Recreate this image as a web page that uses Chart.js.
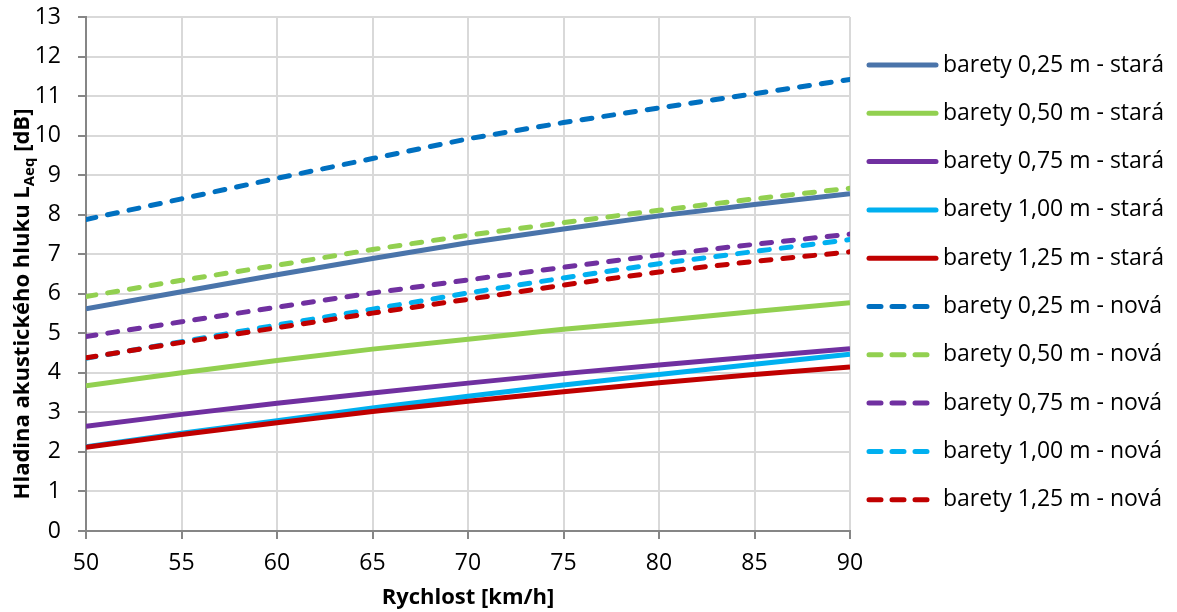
<!DOCTYPE html>
<html>
<head>
<meta charset="utf-8">
<script src="https://cdn.jsdelivr.net/npm/chart.js@4.4.0/dist/chart.umd.min.js"></script>
<style>
  body { margin: 0; background: #fff; }
  canvas { display: block; }
</style>
</head>
<body>
<canvas id="myChart" width="1177" height="612"></canvas>
<script>
// data
const speeds = [50, 55, 60, 65, 70, 75, 80, 85, 90];
const yTicks = [0, 1, 2, 3, 4, 5, 6, 7, 8, 9, 10, 11, 12, 13];

const stara025 = [5.62, 6.05, 6.48, 6.89, 7.29, 7.64, 7.97, 8.26, 8.53];
const stara050 = [3.67, 4.00, 4.31, 4.60, 4.85, 5.10, 5.32, 5.55, 5.77];
const stara075 = [2.65, 2.95, 3.23, 3.49, 3.74, 3.98, 4.20, 4.41, 4.61];
const stara100 = [2.13, 2.47, 2.79, 3.11, 3.41, 3.69, 3.96, 4.22, 4.47];
const stara125 = [2.12, 2.44, 2.74, 3.02, 3.28, 3.52, 3.75, 3.96, 4.15];

const nova025 = [7.88, 8.40, 8.92, 9.42, 9.92, 10.33, 10.70, 11.06, 11.42];
const nova050 = [5.93, 6.34, 6.72, 7.12, 7.48, 7.80, 8.11, 8.40, 8.67];
const nova075 = [4.92, 5.29, 5.66, 6.02, 6.35, 6.67, 6.98, 7.25, 7.51];
const nova100 = [4.37, 4.79, 5.21, 5.61, 6.02, 6.40, 6.76, 7.07, 7.37];
const nova125 = [4.38, 4.77, 5.14, 5.51, 5.86, 6.22, 6.55, 6.82, 7.06];

const seriesNames = [
  'barety 0,25 m - stará', 'barety 0,50 m - stará', 'barety 0,75 m - stará',
  'barety 1,00 m - stará', 'barety 1,25 m - stará',
  'barety 0,25 m - nová', 'barety 0,50 m - nová', 'barety 0,75 m - nová',
  'barety 1,00 m - nová', 'barety 1,25 m - nová'
];
const seriesValues = [stara025, stara050, stara075, stara100, stara125,
                      nova025, nova050, nova075, nova100, nova125];
const seriesColors = ['#4a74aa', '#92d050', '#7030a0', '#00b0f0', '#c00000',
                      '#0070c0', '#92d050', '#7030a0', '#00b0f0', '#c00000'];

const FONT = "'Open Sans', sans-serif";
Chart.defaults.font.family = FONT;
Chart.defaults.color = '#000';

// build datasets
let datasets = seriesValues.map(function(vals, i) {
  let dashed = i >= 5;
  return {
    label: seriesNames[i],
    data: speeds.map(function(x, j) { return { x: x, y: vals[j] }; }),
    borderColor: seriesColors[i],
    backgroundColor: seriesColors[i],
    borderWidth: 5,
    borderDash: dashed ? [10, 12] : [],
    borderCapStyle: dashed ? 'round' : 'butt',
    pointRadius: 0,
    fill: false,
    tension: 0,
    order: 10 - i   // later series on top, like the original
  };
});

// y-axis title with subscript + legend on the right
const extrasPlugin = {
  id: 'extras',
  afterDraw: function(chart) {
    const ctx = chart.ctx;
    // axis title
    ctx.save();
    ctx.translate(23, 304);
    ctx.rotate(-Math.PI / 2);
    ctx.fillStyle = '#000';
    ctx.textBaseline = 'middle';
    ctx.textAlign = 'left';
    const bigFont = 'bold 22px ' + FONT;
    const subFont = 'bold 15px ' + FONT;
    const p1 = 'Hladina akustického hluku L';
    const p2 = 'Aeq';
    const p3 = ' [dB]';
    ctx.font = bigFont;
    let w1 = ctx.measureText(p1).width;
    let w3 = ctx.measureText(p3).width;
    ctx.font = subFont;
    let w2 = ctx.measureText(p2).width;
    let x0 = -(w1 + w2 + w3) / 2;
    ctx.font = bigFont;
    ctx.fillText(p1, x0, 0);
    ctx.font = subFont;
    ctx.fillText(p2, x0 + w1, 7);
    ctx.font = bigFont;
    ctx.fillText(p3, x0 + w1 + w2, 0);
    ctx.restore();

    // legend
    ctx.save();
    ctx.font = '23px ' + FONT;
    ctx.textBaseline = 'middle';
    ctx.textAlign = 'left';
    chart.data.datasets.forEach(function(ds, i) {
      let y = 65 + i * 48.3;
      let dashed = ds.borderDash.length > 0;
      ctx.beginPath();
      ctx.strokeStyle = ds.borderColor;
      ctx.lineWidth = 5;
      ctx.lineCap = 'round';
      ctx.setLineDash(dashed ? [12, 11] : []);
      ctx.moveTo(869, y);
      ctx.lineTo(dashed ? 929 : 936, y);
      ctx.stroke();
      ctx.setLineDash([]);
      ctx.fillStyle = '#000';
      ctx.fillText(ds.label, 943, y);
    });
    ctx.restore();
  }
};

const ThisChart = document.getElementById('myChart');
let lineChart = new Chart(ThisChart, {
  type: 'line',
  data: { datasets: datasets },
  options: {
    responsive: false,
    animation: false,
    layout: { padding: { top: 17, right: 327, left: 0, bottom: 0 } },
    plugins: { legend: { display: false }, tooltip: { enabled: false } },
    scales: {
      x: {
        type: 'linear',
        min: 50,
        max: 90,
        afterBuildTicks: function(s) { s.ticks = speeds.map(function(v) { return { value: v }; }); },
        ticks: { font: { size: 23 }, color: '#000', padding: 11 },
        grid: { color: '#d9d9d9', lineWidth: 2, tickColor: '#868686', tickLength: 8 },
        border: { color: '#868686', width: 2 },
        title: { display: true, text: 'Rychlost [km/h]', font: { size: 22, weight: 'bold' }, color: '#000', padding: { top: 0, bottom: 1 } },
        afterFit: function(s) { s.height = 81; }
      },
      y: {
        min: 0,
        max: 13,
        afterBuildTicks: function(s) { s.ticks = yTicks.map(function(v) { return { value: v }; }); },
        ticks: { font: { size: 23 }, color: '#000', padding: 17 },
        grid: { color: '#d9d9d9', lineWidth: 2, tickColor: '#868686', tickLength: 8 },
        border: { color: '#868686', width: 2 },
        afterFit: function(s) { s.width = 86; s.paddingTop = 0; s.paddingBottom = 0; }
      }
    }
  },
  plugins: [extrasPlugin]
});
</script>
</body>
</html>
